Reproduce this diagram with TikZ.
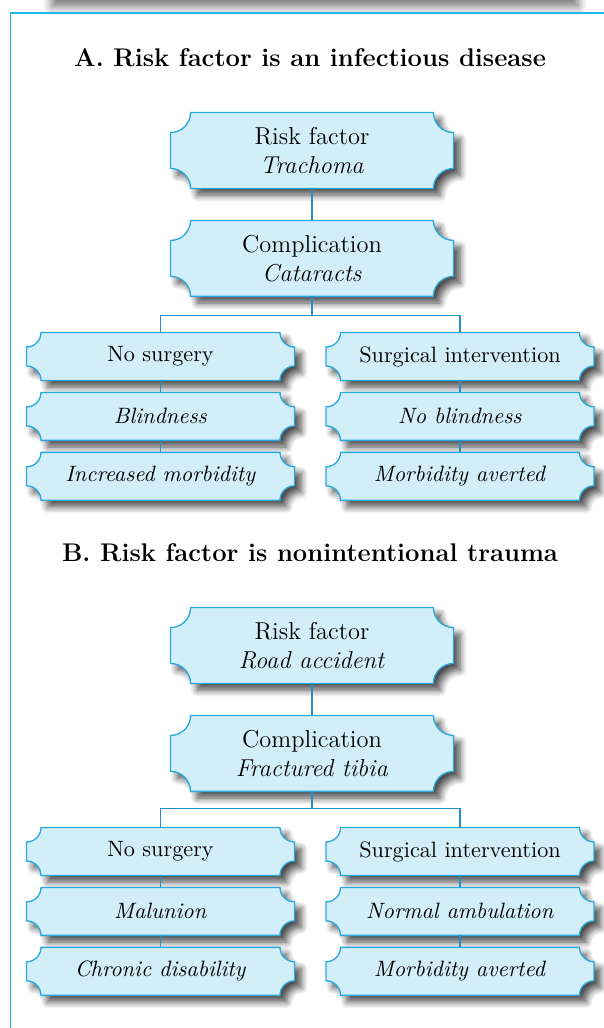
\documentclass[tikz,border=0pt]{standalone}
\usepackage{xcolor}
\usepackage{tikz}
\usetikzlibrary{positioning,calc,backgrounds,shadows.blur}
\definecolor{boxfill}{HTML}{D2EEF9}
\definecolor{boxline}{HTML}{2AA9DE}
\definecolor{linkblue}{HTML}{2391C4}
\definecolor{framecyan}{HTML}{1FB6EA}
\tikzset{link/.style = {draw=linkblue, line width=0.5pt},
  ticketshape/.style = {fill=boxfill, draw=boxline, line width=0.6pt,
    blur shadow={shadow xshift=3pt, shadow yshift=-3pt, shadow blur radius=3pt, shadow blur steps=8, shadow opacity=70}}}

% notched outline round a named node: #1 node, #2 notch radius
\newcommand{\ticketbox}[2]{%
  \path[ticketshape] ($(#1.south west)+(#2,0)$) -- ($(#1.south east)+(-#2,0)$)
    arc[start angle=180, end angle=90, radius=#2] -- ($(#1.north east)+(0,-#2)$)
    arc[start angle=270, end angle=180, radius=#2] -- ($(#1.north west)+(#2,0)$)
    arc[start angle=0, end angle=-90, radius=#2] -- ($(#1.south west)+(0,#2)$)
    arc[start angle=90, end angle=0, radius=#2] -- cycle;}

\begin{document}
\begin{tikzpicture}[x=0.45pt, y=0.45pt,
  big node/.style={rectangle, minimum width=126.9pt, minimum height=33.75pt, inner sep=0pt, align=center, font=\fontsize{11}{13}\selectfont},
  small node/.style={rectangle, minimum width=120.15pt, minimum height=21.15pt, inner sep=0pt, align=center, font=\fontsize{10}{12}\selectfont},
  title/.style={font=\bfseries\fontsize{11.5}{14}\selectfont}]
  \useasboundingbox (0,0) rectangle (604,-1028);

  % edge of the box above, and the frame
  \path[fill=white, blur shadow={shadow xshift=0pt, shadow yshift=-3pt, shadow blur radius=4pt, shadow blur steps=8, shadow opacity=55}] (52,30) rectangle (578,0);
  \draw[framecyan, line width=0.7pt] (10.5,-1030) -- (10.5,-13) -- (606,-13);

  % A
  \node[title] (tA) at (310,-58) {A. Risk factor is an infectious disease};
  \node[big node] (rfA) at (312,-150.5) {Risk factor\\\textit{Trachoma}};
  \node[big node] (cxA) [below=14.4pt of rfA] {Complication\\\textit{Cataracts}};
  \node[small node] (nsA) at (160.5,-356.5) {No surgery};
  \node[small node] (blA) [below=5.4pt of nsA] {\textit{Blindness}};
  \node[small node] (imA) [below=5.4pt of blA] {\textit{Increased morbidity}};
  \node[small node] (siA) at (460,-356.5) {Surgical intervention};
  \node[small node] (nbA) [below=5.4pt of siA] {\textit{No blindness}};
  \node[small node] (maA) [below=5.4pt of nbA] {\textit{Morbidity averted}};

  % B
  \node[title] (tB) at (310,-553) {B. Risk factor is nonintentional trauma};
  \node[big node] (rfB) at (312,-645.5) {Risk factor\\\textit{Road accident}};
  \node[big node] (cxB) [below=14.4pt of rfB] {Complication\\\textit{Fractured tibia}};
  \node[small node] (nsB) at (160.5,-851.5) {No surgery};
  \node[small node] (mlB) [below=5.4pt of nsB] {\textit{Malunion}};
  \node[small node] (cdB) [below=5.4pt of mlB] {\textit{Chronic disability}};
  \node[small node] (siB) at (460,-851.5) {Surgical intervention};
  \node[small node] (naB) [below=5.4pt of siB] {\textit{Normal ambulation}};
  \node[small node] (maB) [below=5.4pt of naB] {\textit{Morbidity averted}};

  \begin{scope}[on background layer]
    \foreach \n in {rfA,cxA,rfB,cxB} {\ticketbox{\n}{9pt}}
    \foreach \n in {nsA,blA,imA,siA,nbA,maA,nsB,mlB,cdB,siB,naB,maB} {\ticketbox{\n}{6.5pt}}

    \draw[link] (rfA) -- (cxA);
    \draw[link] (cxA.south) -- ++(0,-19) coordinate (jA) -| (nsA.north);
    \draw[link] (jA) -| (siA.north);
    \draw[link] (nsA) -- (blA);
    \draw[link] (blA) -- (imA);
    \draw[link] (siA) -- (nbA);
    \draw[link] (nbA) -- (maA);

    \draw[link] (rfB) -- (cxB);
    \draw[link] (cxB.south) -- ++(0,-17) coordinate (jB) -| (nsB.north);
    \draw[link] (jB) -| (siB.north);
    \draw[link] (nsB) -- (mlB);
    \draw[link] (mlB) -- (cdB);
    \draw[link] (siB) -- (naB);
    \draw[link] (naB) -- (maB);
  \end{scope}
\end{tikzpicture}
\end{document}
